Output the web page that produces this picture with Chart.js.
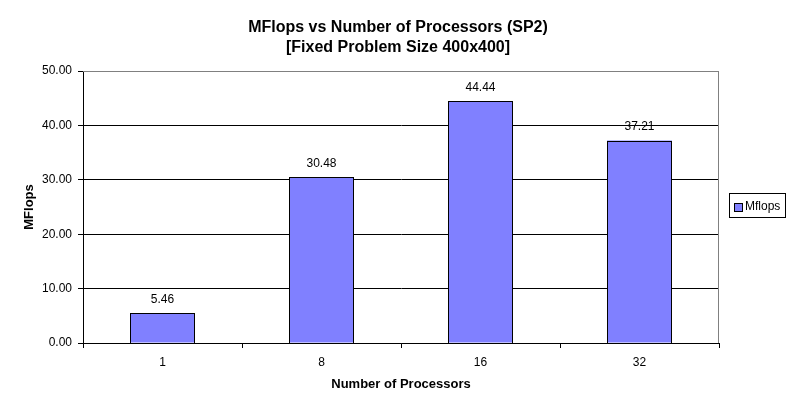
<!DOCTYPE html>
<html>
<head>
<meta charset="utf-8">
<script src="https://cdn.jsdelivr.net/npm/chart.js@4"></script>
<style>
  html, body { margin: 0; padding: 0; background: #fff; }
  canvas { display: block; }
</style>
</head>
<body>
<canvas id="chart" width="796" height="413"></canvas>
<script>
const processors = ["1", "8", "16", "32"];
const mflops = [5.46, 30.48, 44.44, 37.21];
const seriesName = "Mflops";

const FONT = "'Liberation Sans', Arial, sans-serif";

// center the title on the whole canvas, not just the area left of the legend
const titleCenter = {
  id: "titleCenter",
  afterLayout(chart) {
    const t = chart.titleBlock;
    if (t) {
      t.left = 0;
      t.right = chart.width;
      t.width = chart.width;
    }
  }
};

// gray frame around the plot area, like the spreadsheet chart
const plotFrame = {
  id: "plotFrame",
  beforeDatasetsDraw(chart) {
    const { ctx, chartArea: a } = chart;
    ctx.save();
    ctx.strokeStyle = "#808080";
    ctx.lineWidth = 1;
    ctx.beginPath();
    ctx.moveTo(a.left, a.top + 0.5);
    ctx.lineTo(a.right - 0.5, a.top + 0.5);
    ctx.lineTo(a.right - 0.5, a.bottom);
    ctx.stroke();
    ctx.restore();
  }
};

// crisp black outlines and value labels above bars
const valueLabels = {
  id: "valueLabels",
  afterDatasetsDraw(chart) {
    const { ctx } = chart;
    const meta = chart.getDatasetMeta(0);
    ctx.save();
    ctx.strokeStyle = "#000";
    ctx.lineWidth = 1;
    meta.data.forEach((bar) => {
      const l = Math.round(bar.x - bar.width / 2);
      const r = Math.round(bar.x + bar.width / 2);
      const t = Math.round(bar.y);
      const b = Math.round(bar.base);
      ctx.strokeRect(l + 0.5, t + 0.5, r - l - 1, b - t);
    });
    ctx.font = "12px " + FONT;
    ctx.fillStyle = "#000";
    ctx.textAlign = "center";
    ctx.textBaseline = "middle";
    meta.data.forEach((bar, i) => {
      ctx.fillText(chart.data.datasets[0].data[i].toFixed(2), bar.x, bar.y - 14);
    });
    ctx.restore();
  }
};

// boxed legend on the right
const boxLegend = {
  id: "boxLegend",
  afterDraw(chart) {
    const { ctx } = chart;
    const ds = chart.data.datasets[0];
    ctx.save();
    ctx.strokeStyle = "#000";
    ctx.lineWidth = 1;
    ctx.strokeRect(729.5, 193.5, 56, 24);
    ctx.fillStyle = ds.backgroundColor;
    ctx.fillRect(734.5, 203.5, 8, 8);
    ctx.strokeRect(734.5, 203.5, 8, 8);
    ctx.font = "12px " + FONT;
    ctx.fillStyle = "#000";
    ctx.textBaseline = "middle";
    ctx.fillText(ds.label, 745, 207);
    ctx.restore();
  }
};

new Chart(document.getElementById("chart"), {
  type: "bar",
  data: {
    labels: processors,
    datasets: [{
      label: seriesName,
      data: mflops,
      backgroundColor: "#8080FF",
      borderWidth: 0,
      inflateAmount: 0,
      categoryPercentage: 1.0,
      barPercentage: 65 / 159
    }]
  },
  options: {
    responsive: false,
    animation: false,
    layout: { padding: { left: 0, right: 77, top: 0, bottom: 0 } },
    plugins: {
      legend: { display: false },
      tooltip: { enabled: false },
      title: {
        display: true,
        text: ["MFlops vs Number of Processors (SP2)", "[Fixed Problem Size 400x400]"],
        color: "#000",
        font: { family: FONT, size: 16, weight: "bold", lineHeight: 1.25 },
        padding: { top: 18, bottom: 13 }
      }
    },
    scales: {
      x: {
        grid: {
          offset: true,
          drawOnChartArea: false,
          drawTicks: true,
          tickLength: 5,
          color: "#000"
        },
        border: { color: "#000", width: 1 },
        ticks: { color: "#000", font: { family: FONT, size: 12 }, padding: 7 },
        title: {
          display: true,
          text: "Number of Processors",
          color: "#000",
          font: { family: FONT, size: 13, weight: "bold" },
          padding: { top: 0, bottom: 21 }
        },
        afterFit(scale) { scale.height = 70; }
      },
      y: {
        min: 0,
        max: 50,
        grid: {
          color: (c) => (c.tick && c.tick.value === 50 ? "#808080" : "#000"),
          tickColor: "#000",
          tickLength: 5,
          drawTicks: true
        },
        border: { color: "#000", width: 1 },
        ticks: {
          stepSize: 10,
          color: "#000",
          font: { family: FONT, size: 12 },
          padding: 6,
          callback: (v) => v.toFixed(2)
        },
        title: {
          display: true,
          text: "MFlops",
          color: "#000",
          font: { family: FONT, size: 13, weight: "bold" },
          padding: { top: 22, bottom: 0 }
        },
        afterFit(scale) { scale.width = 83; }
      }
    }
  },
  plugins: [titleCenter, plotFrame, valueLabels, boxLegend]
});
</script>
</body>
</html>
